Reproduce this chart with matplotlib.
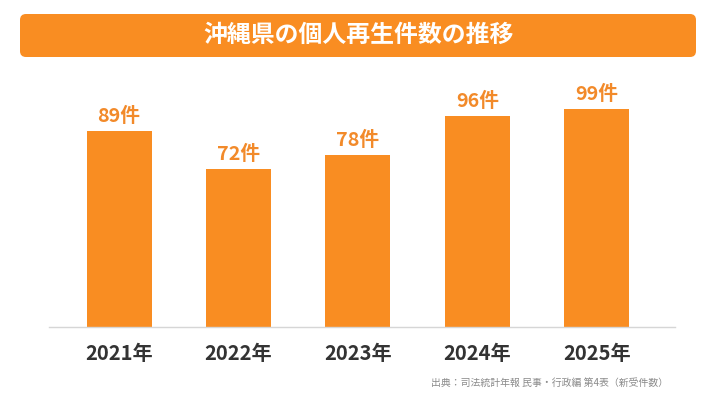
import matplotlib
matplotlib.use("Agg")
import matplotlib.pyplot as plt
from matplotlib.patches import FancyBboxPatch

plt.rcParams['font.family'] = ['Noto Sans CJK JP', 'DejaVu Sans']

years = ["2021年", "2022年", "2023年", "2024年", "2025年"]
counts = [89, 72, 78, 96, 99]
value_labels = [f"{v}件" for v in counts]
title = "沖縄県の個人再生件数の推移"
source = "出典：司法統計年報 民事・行政編 第4表（新受件数）"

ORANGE = "#F98D22"
W, H = 716, 403
fig = plt.figure(figsize=(W / 100, H / 100), dpi=100)
fig.patch.set_facecolor("white")

# background / decoration axes in pixel coordinates
bg = fig.add_axes([0, 0, 1, 1])
bg.set_xlim(0, W)
bg.set_ylim(H, 0)
bg.axis("off")
box = FancyBboxPatch((20, 14), 676, 43, boxstyle="round,pad=0,rounding_size=6",
                     facecolor=ORANGE, edgecolor="none")
bg.add_patch(box)
bg.text(358, 34.5, title, color="white", fontsize=17.2, fontweight="bold",
        ha="center", va="center")
bg.text(668, 383, source, color="#8a8a8a", fontsize=7.1, ha="right", va="center")

# main chart axes
left, right = 49, 675
base, top = 327, 80
ax = fig.add_axes([left / W, 1 - base / H, (right - left) / W, (base - top) / H])
ax.set_facecolor("none")
x = list(range(len(years)))
ax.bar(x, counts, width=0.544, color=ORANGE)
ax.set_xlim(-0.586, 4.653)
ax.set_ylim(0, (base - top) / 2.2)
for s in ["top", "left", "right"]:
    ax.spines[s].set_visible(False)
ax.spines["bottom"].set_color("#d6d6d6")
ax.spines["bottom"].set_linewidth(1.0)
ax.set_yticks([])
ax.set_xticks([])

for xi, v, lab in zip(x, counts, value_labels):
    ax.annotate(lab, xy=(xi, v), xytext=(0, 6.5), textcoords="offset points",
                ha="center", va="baseline", color="#F28A2A", fontsize=14.2,
                fontweight="bold")
for xi, y in zip(x, years):
    ax.annotate(y, xy=(xi, 0), xytext=(0, -19), textcoords="offset points",
                ha="center", va="center", color="#333333", fontsize=14.5,
                fontweight="bold")

fig.savefig("out.png", dpi=100, facecolor="white")
